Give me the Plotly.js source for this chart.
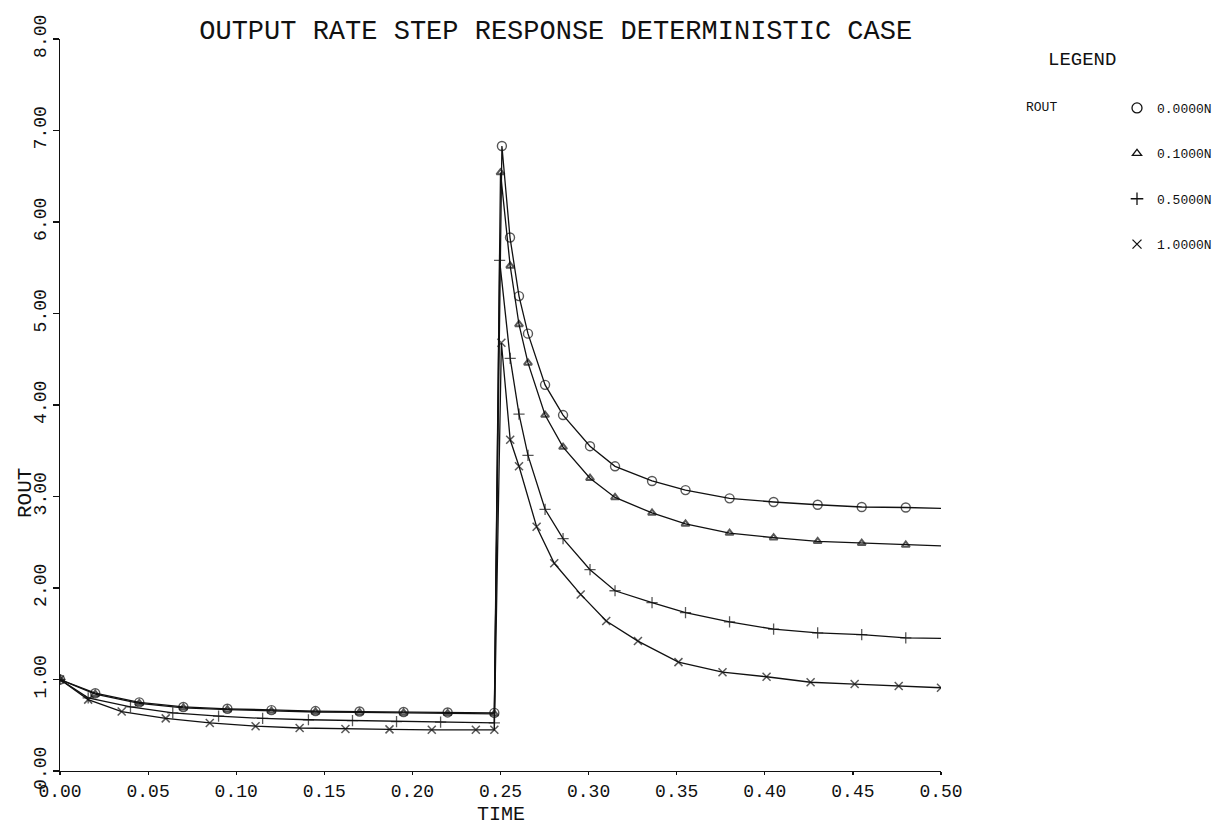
<!DOCTYPE html>
<html><head><meta charset="utf-8">
<script src="https://cdn.plot.ly/plotly-3.0.1.min.js"></script>
<style>body{margin:0;background:#fff}#chart{width:1216px;height:826px}</style>
</head><body><div id="chart"></div>
<script>
// Series labels (legend)
const seriesNames = ["0.0000N", "0.1000N", "0.5000N", "1.0000N"];
const tickValsX = [0, 0.05, 0.10, 0.15, 0.20, 0.25, 0.30, 0.35, 0.40, 0.45, 0.50];
const tickValsY = [0, 1, 2, 3, 4, 5, 6, 7, 8];

// N = 0.0000 (circles)
const time0 = [0, 0.02, 0.045, 0.07, 0.095, 0.12, 0.145, 0.17, 0.195, 0.22, 0.2465, 0.2508, 0.2554, 0.2605, 0.2656, 0.2753, 0.2855, 0.3008, 0.315, 0.336, 0.355, 0.380, 0.405, 0.430, 0.455, 0.480, 0.50];
const rout0 = [1.0, 0.85, 0.75, 0.70, 0.68, 0.665, 0.655, 0.65, 0.645, 0.64, 0.635, 6.83, 5.83, 5.19, 4.78, 4.22, 3.89, 3.55, 3.33, 3.17, 3.07, 2.98, 2.94, 2.91, 2.885, 2.88, 2.87];

// N = 0.1000 (triangles)
const time1 = [0, 0.02, 0.045, 0.07, 0.095, 0.12, 0.145, 0.17, 0.195, 0.22, 0.2465, 0.2500, 0.2555, 0.2605, 0.2656, 0.2753, 0.2855, 0.3008, 0.315, 0.336, 0.355, 0.380, 0.405, 0.430, 0.455, 0.480, 0.50];
const rout1 = [1.0, 0.84, 0.74, 0.69, 0.67, 0.655, 0.645, 0.64, 0.635, 0.63, 0.625, 6.54, 5.52, 4.88, 4.46, 3.89, 3.54, 3.20, 2.99, 2.82, 2.70, 2.60, 2.55, 2.51, 2.49, 2.47, 2.46];

// N = 0.5000 (plus)
const time2 = [0, 0.016, 0.040, 0.064, 0.090, 0.115, 0.141, 0.166, 0.191, 0.216, 0.2465, 0.2495, 0.2555, 0.2605, 0.2656, 0.2753, 0.2855, 0.3008, 0.315, 0.336, 0.355, 0.380, 0.405, 0.430, 0.455, 0.480, 0.50];
const rout2 = [1.0, 0.80, 0.70, 0.635, 0.60, 0.575, 0.56, 0.55, 0.54, 0.535, 0.525, 5.58, 4.51, 3.90, 3.45, 2.86, 2.54, 2.20, 1.97, 1.84, 1.73, 1.63, 1.55, 1.51, 1.49, 1.455, 1.45];

// N = 1.0000 (crosses)
const time3 = [0, 0.016, 0.035, 0.060, 0.085, 0.111, 0.136, 0.162, 0.187, 0.211, 0.236, 0.2465, 0.2505, 0.2555, 0.2605, 0.2705, 0.2805, 0.2955, 0.310, 0.328, 0.351, 0.376, 0.401, 0.426, 0.451, 0.476, 0.50];
const rout3 = [1.0, 0.78, 0.65, 0.575, 0.525, 0.49, 0.47, 0.46, 0.455, 0.45, 0.45, 0.45, 4.68, 3.62, 3.33, 2.67, 2.27, 1.93, 1.64, 1.42, 1.19, 1.08, 1.03, 0.97, 0.95, 0.93, 0.91];

const FONT = "Liberation Mono, DejaVu Sans Mono, monospace";
const INK = "#111";

const times = [time0, time1, time2, time3];
const routs = [rout0, rout1, rout2, rout3];
const symbols = ["circle-open", "triangle-up-open", "cross-thin-open", "x-thin-open"];
const msizes = [9, 7, 8, 8];
const mwidths = [1.4, 2, 1.3, 1.5];
const markLast = [false, false, false, true];

const traces = [];
for (let i = 0; i < 4; i++) {
  const n = routs[i].length;
  const sizes = routs[i].map((_, k) => (k === n - 1 && !markLast[i]) ? 0 : msizes[i]);
  traces.push({
    type: "scatter", mode: "lines+markers",
    x: times[i], y: routs[i], showlegend: false, hoverinfo: "skip",
    line: {color: INK, width: 1.3},
    marker: {symbol: symbols[i], size: sizes, color: INK, line: {color: INK, width: mwidths[i]}}
  });
}
for (let i = 0; i < 4; i++) {
  traces.push({
    type: "scatter", mode: "markers", x: [null], y: [null],
    name: seriesNames[i], legendgroup: "g" + i, showlegend: true,
    marker: {symbol: symbols[i], size: msizes[i] + 1, color: INK, line: {color: INK, width: 1.3}}
  });
}

const layout = {
  width: 1216, height: 826,
  paper_bgcolor: "#fff", plot_bgcolor: "#fff",
  margin: {l: 60, r: 275, t: 39, b: 55, autoexpand: false},
  font: {family: FONT, color: INK},
  title: {text: "OUTPUT RATE STEP RESPONSE DETERMINISTIC CASE",
          font: {family: FONT, size: 27, color: INK},
          xref: "container", x: 0.457, xanchor: "center",
          yref: "container", y: 1 - 30/826, yanchor: "middle"},
  xaxis: {range: [0, 0.5], tickvals: tickValsX, tickformat: ".2f",
          showline: true, linecolor: INK, linewidth: 1.3, showgrid: false, zeroline: false,
          ticks: "outside", ticklen: 3, tickcolor: INK, tickwidth: 1.2,
          tickfont: {family: FONT, size: 18, color: INK}},
  yaxis: {range: [0, 8], tickvals: tickValsY, tickformat: ".2f", tickangle: -90,
          showline: true, linecolor: INK, linewidth: 1.3, showgrid: false, zeroline: false,
          ticks: "outside", ticklen: 6, tickcolor: INK, tickwidth: 1.2,
          tickfont: {family: FONT, size: 18, color: INK}},
  legend: {x: (1117 - 60) / 881, xanchor: "left", y: (771 - 93) / 732, yanchor: "top",
           font: {family: FONT, size: 13, color: INK}, traceorder: "grouped",
           tracegroupgap: 25.5, bgcolor: "rgba(0,0,0,0)", itemwidth: 30},
  annotations: [
    {text: "TIME", xref: "paper", yref: "paper", x: 0.5, y: (771 - 814) / 732,
     xanchor: "center", yanchor: "middle", showarrow: false,
     font: {family: FONT, size: 20, color: INK}},
    {text: "ROUT", xref: "paper", yref: "paper", x: (25 - 60) / 881, y: (771 - 493) / 732,
     xanchor: "center", yanchor: "middle", textangle: -90, showarrow: false,
     font: {family: FONT, size: 21, color: INK}},
    {text: "LEGEND", xref: "paper", yref: "paper", x: (1082 - 60) / 881, y: (771 - 60) / 732,
     xanchor: "center", yanchor: "middle", showarrow: false,
     font: {family: FONT, size: 19, color: INK}},
    {text: "ROUT", xref: "paper", yref: "paper", x: (1041 - 60) / 881, y: (771 - 107) / 732,
     xanchor: "center", yanchor: "middle", showarrow: false,
     font: {family: FONT, size: 13, color: INK}}
  ]
};

Plotly.newPlot("chart", traces, layout, {staticPlot: true, displayModeBar: false});
</script>
</body></html>
